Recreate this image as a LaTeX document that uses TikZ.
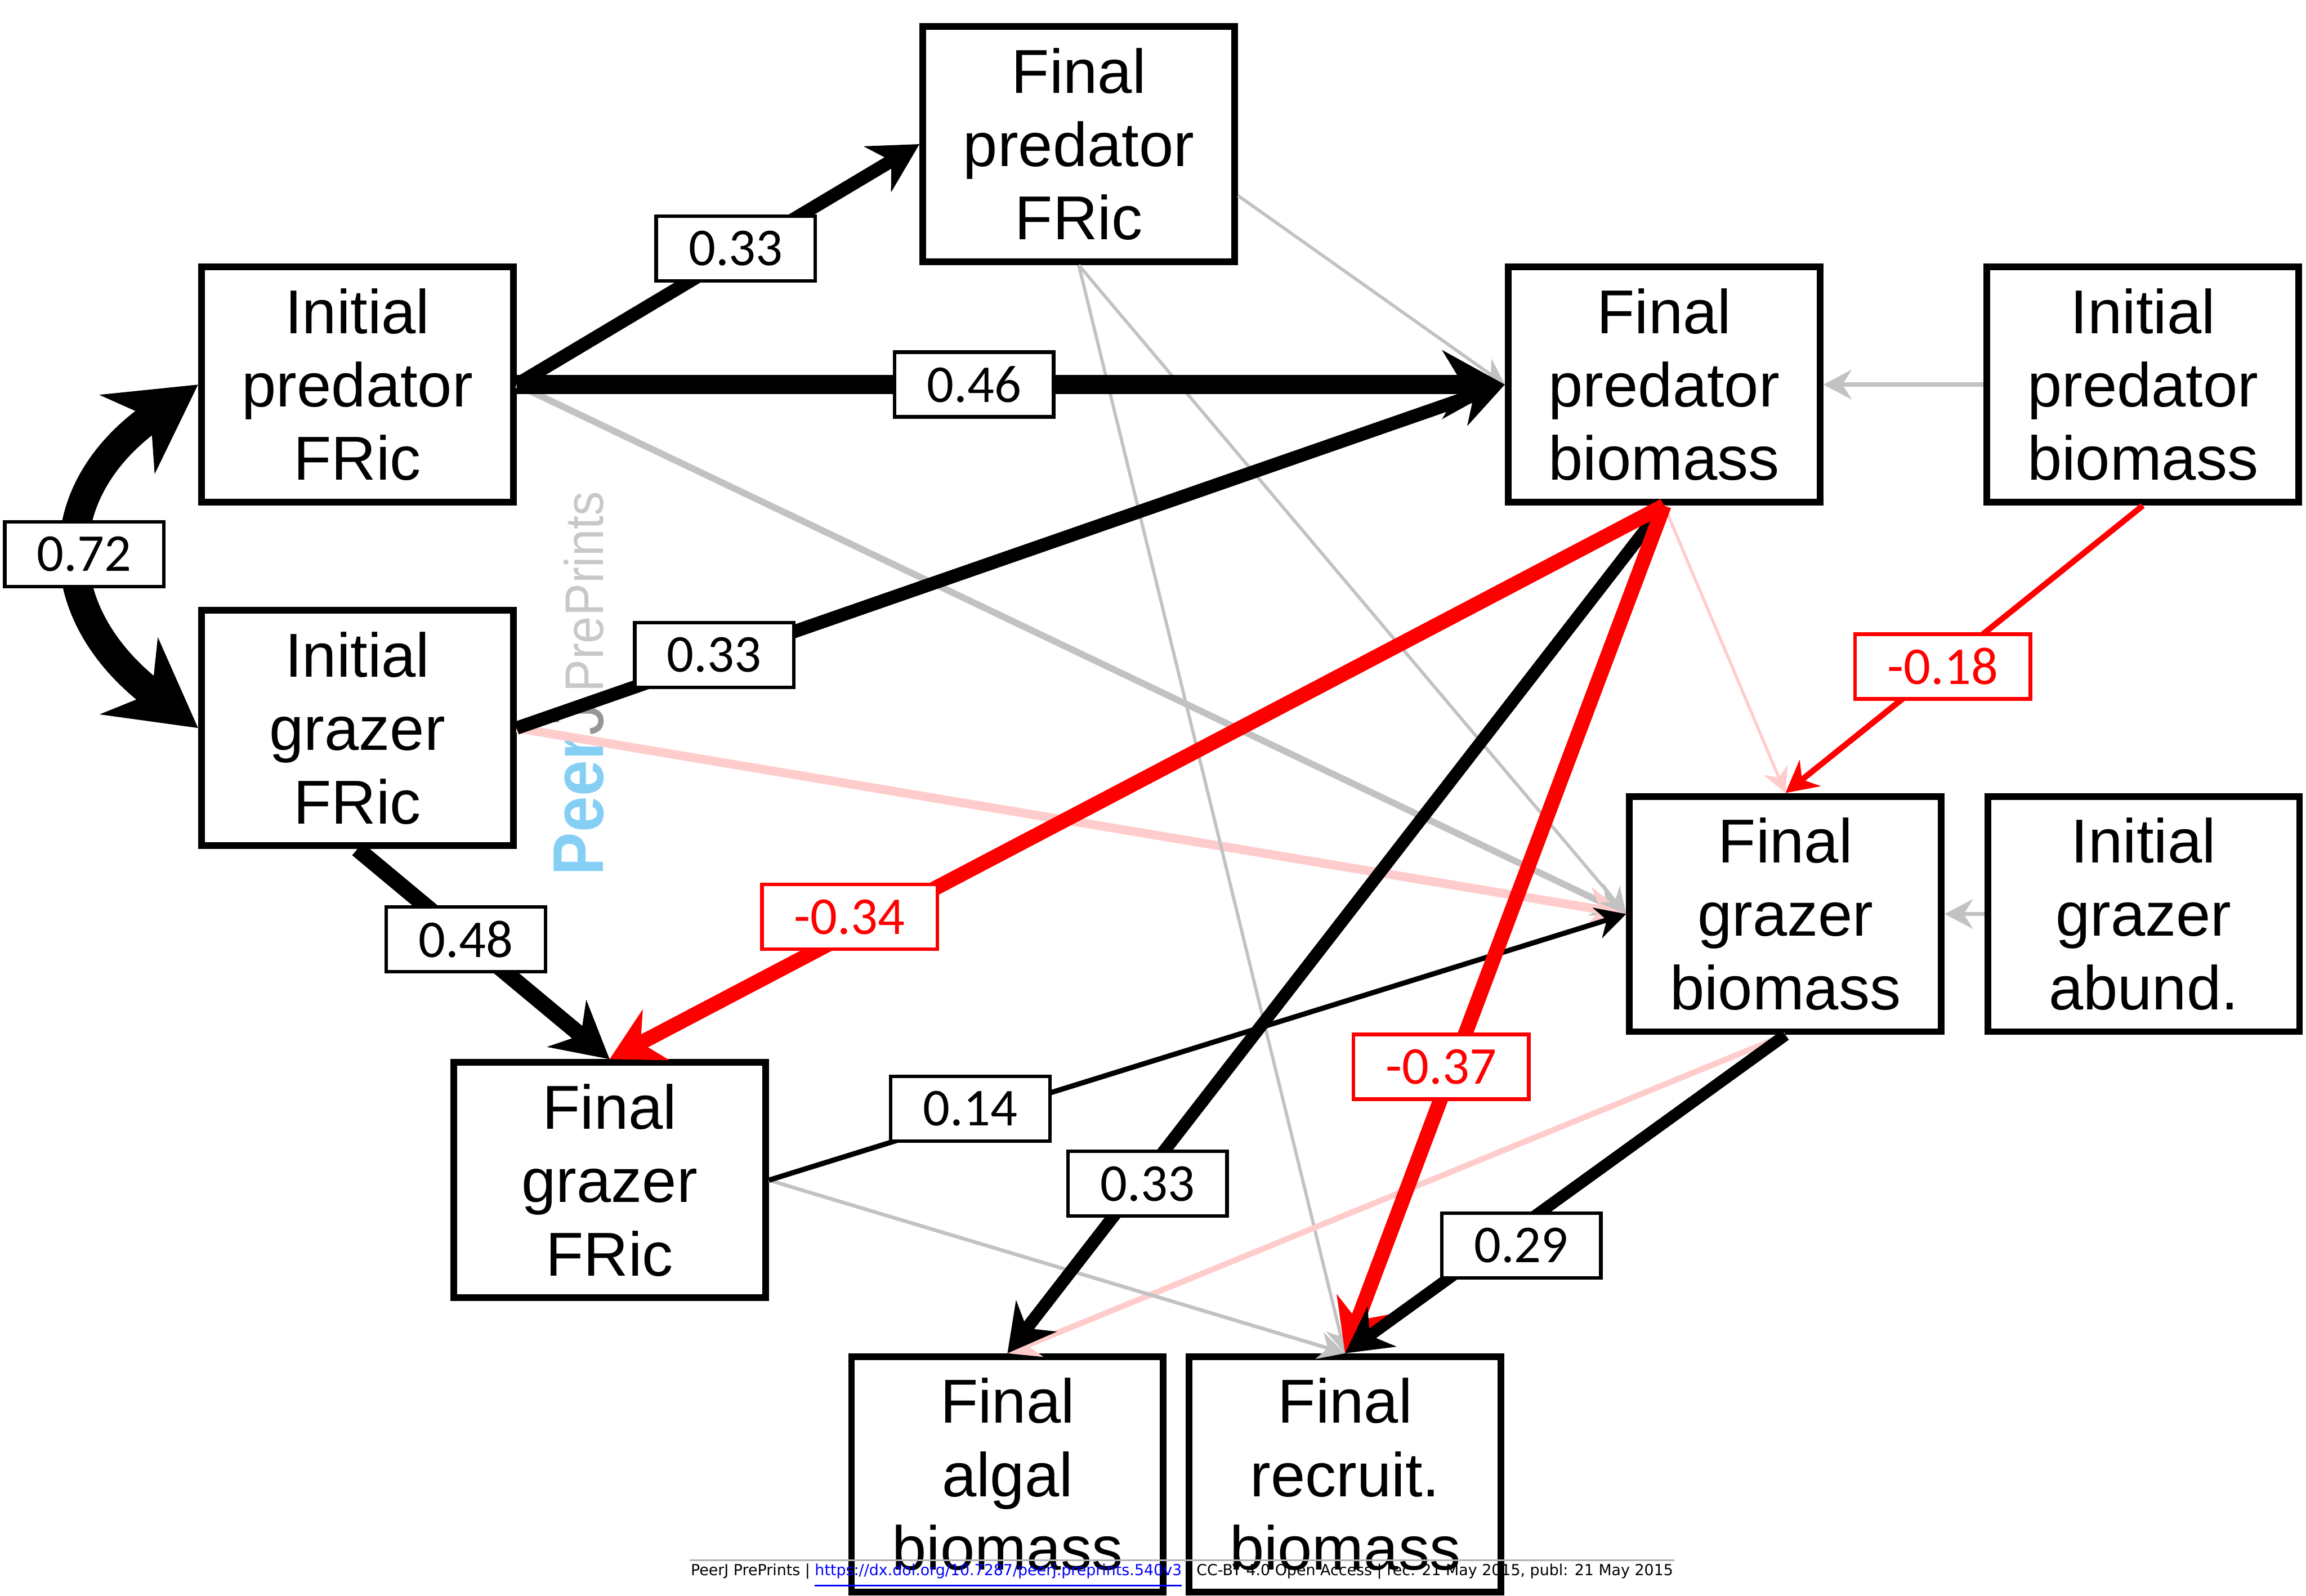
\documentclass[tikz,border=0pt]{standalone}
\usepackage{fontspec}
\usepackage{graphicx}
\usetikzlibrary{arrows.meta,positioning}

\newfontfamily\boxfont{Liberation Sans}
\newfontfamily\coeffont{Carlito}
\newfontfamily\footfont{DejaVu Sans}

\definecolor{nsgray}{RGB}{194,194,194}
\definecolor{nspink}{RGB}{255,204,204}
\definecolor{peerblue}{RGB}{133,207,245}
\definecolor{peergray}{RGB}{150,150,150}
\definecolor{prepgray}{RGB}{200,200,200}

\tikzset{pathtip/.tip={Stealth[length=3.5pt 2.3, width=3.5pt 2.6]}}

\begin{document}
\begin{tikzpicture}[
  box/.style={draw, line width=1.3pt, minimum width=2.12cm, minimum height=1.6cm,
    align=center, inner sep=1pt, font=\boxfont\fontsize{12}{14.2}\selectfont},
  coef/.style={draw, fill=white, line width=0.7pt, minimum height=0.44cm,
    inner xsep=0.22cm, inner ysep=0pt, font=\coeffont\fontsize{10.3}{12}\selectfont},
  neg/.style={coef, draw=red, text=red},
  effect/.style={line width=#1, -pathtip},
  negeffect/.style={effect=#1, red},
  ns/.style={nsgray, line width=#1, -pathtip},
  nsneg/.style={nspink, line width=#1, -pathtip}
]
\useasboundingbox (0,0) rectangle (15.68,-10.85);

\node[box] (ipf) at (2.43,-2.615) {Initial\\predator\\FRic};
\node[box, below=0.69cm of ipf] (igf) {Initial\\grazer\\FRic};
\node[box] (fpf) at (7.335,-0.98) {Final\\predator\\FRic};
\node[box] (fpb) at (11.315,-2.615) {Final\\predator\\biomass};
\node[box, right=1.09cm of fpb] (ipb) {Initial\\predator\\biomass};
\node[box] (fgb) at (12.14,-6.215) {Final\\grazer\\biomass};
\node[box, right=0.27cm of fgb] (iga) {Initial\\grazer\\abund.};
\node[box] (fgf) at (4.145,-8.025) {Final\\grazer\\FRic};
\node[box] (fab) at (6.85,-10.025) {Final\\algal\\biomass};
\node[box, right=0.13cm of fab] (frb) {Final\\recruit.\\biomass};

% watermark behind the paths
\node[rotate=90, anchor=base west, inner sep=0pt] (wm) at (4.10,-5.96)
  {\scalebox{0.9}[1]{\boxfont\fontsize{13.9}{14}\selectfont\textcolor{peerblue}{\bfseries Peer}\textcolor{peergray}{J}\hspace{0.8mm}\fontsize{10.5}{11}\selectfont\textcolor{prepgray}{PrePrints}}};

% non-significant paths
\draw[ns=0.045cm] (ipf.east) -- (fgb.west);
\draw[nsneg=0.06cm] (igf.east) -- (fgb.west);
\draw[ns=0.022cm] ([yshift=-3.5mm]fpf.east) -- (fpb.west);
\draw[ns=0.022cm] (fpf.south) -- (fgb.west);
\draw[ns=0.022cm] (fpf.south) -- (frb.north);
\draw[ns=0.03cm] (ipb.west) -- (fpb.east);
\draw[ns=0.03cm] (iga.west) -- (fgb.east);
\draw[nsneg=0.02cm] (fpb.south) -- (fgb.north);
\draw[nsneg=0.04cm] (fgb.south) -- (fab.north);
\draw[ns=0.025cm] (fgf.east) -- (frb.north);

% significant paths
\draw[line width=0.2cm, pathtip-pathtip] (ipf.west) to[out=215, in=143, looseness=1.4]
  node[coef] {0.72} (igf.west);
\draw[effect=0.09cm] (ipf.east) -- node[coef, pos=0.544, yshift=0.035cm] {0.33} (fpf.west);
\draw[effect=0.13cm] (ipf.east) -- node[coef, pos=0.463] {0.46} (fpb.west);
\draw[effect=0.09cm] (igf.east) -- node[coef, pos=0.2, yshift=0.03cm] {0.33} (fpb.west);
\draw[effect=0.11cm] (igf.south) -- node[coef, pos=0.43] {0.48} (fgf.north);
\draw[effect=0.035cm] (fgf.east) -- node[coef, pos=0.235, yshift=0.06cm] {0.14} (fgb.west);
\draw[effect=0.085cm] (fpb.south) -- node[coef, pos=0.8, xshift=0.06cm] {0.33} (fab.north);
\draw[negeffect=0.1cm] (fpb.south) -- node[neg, pos=0.743, xshift=-0.21cm] {-0.34} (fgf.north);
\draw[negeffect=0.1cm] (fpb.south) -- node[neg, pos=0.662, xshift=-0.08cm] {-0.37} (frb.north);
\draw[negeffect=0.04cm] (ipb.south) -- node[neg, pos=0.56] {-0.18} (fgb.north);
\draw[effect=0.08cm] (fgb.south) -- node[coef, pos=0.62, xshift=0.06cm, yshift=-0.09cm] {0.29} (frb.north);

% footer line
\node[anchor=north west, inner sep=0pt] (foot) at (4.69,-10.625)
  {\resizebox{6.68cm}{\height}{\footfont\fontsize{2.95}{3.5}\selectfont PeerJ PrePrints | \textcolor{blue}{\underline{https://dx.doi.org/10.7287/peerj.preprints.540v3}} | CC-BY 4.0 Open Access | rec: 21 May 2015, publ: 21 May 2015}};
\draw[black!30, line width=0.4pt] ([yshift=0.15mm]foot.north west) -- ([yshift=0.15mm]foot.north east);
\end{tikzpicture}
\end{document}
